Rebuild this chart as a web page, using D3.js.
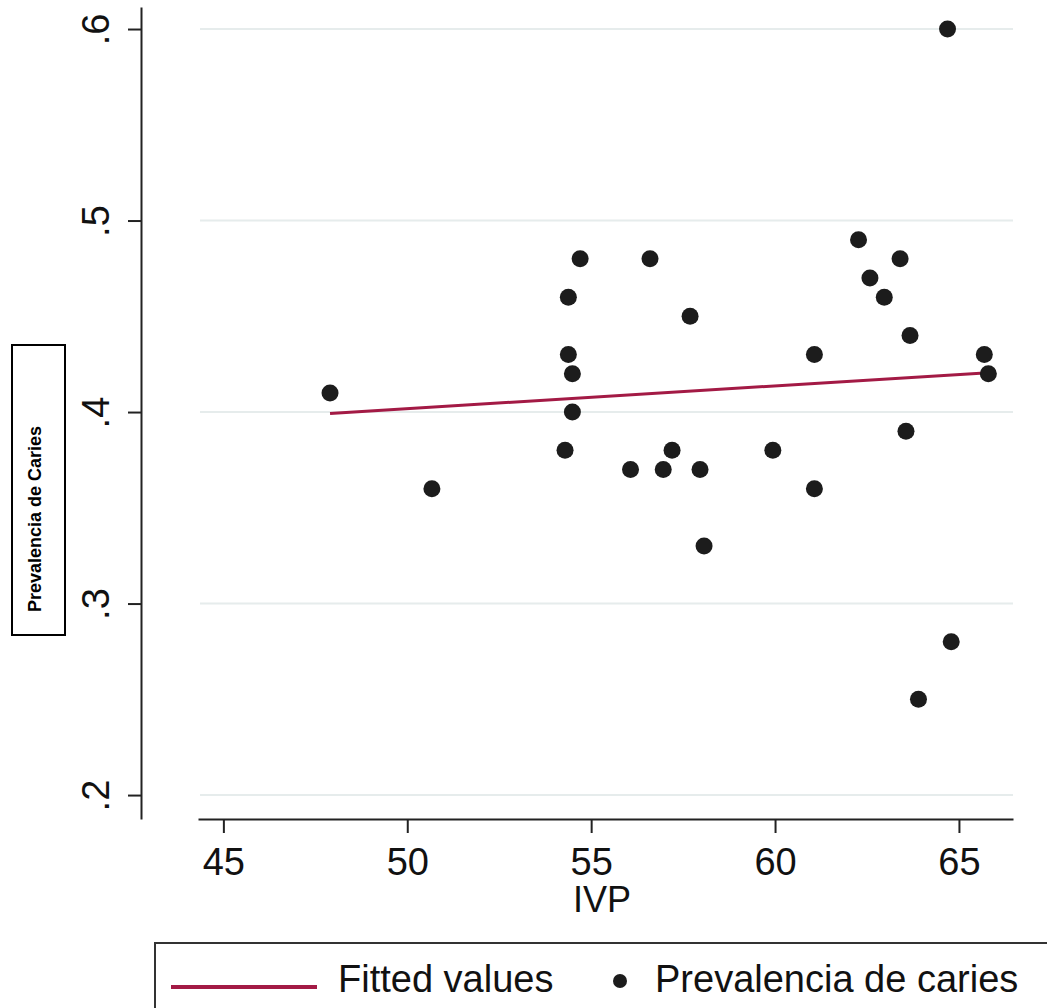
<!DOCTYPE html>
<html>
<head>
<meta charset="utf-8">
<script src="https://cdn.jsdelivr.net/npm/d3@7"></script>
<style>
  body { margin: 0; background: #fff; }
  text { font-family: "Liberation Sans", Arial, sans-serif; }
</style>
</head>
<body>
<div id="chart"></div>
<script>
// data
var ivp  = [47.9, 50.67, 54.70, 56.60, 54.38, 57.69, 54.38, 54.49, 54.49, 54.29,
            57.20, 56.07, 56.96, 57.96, 58.07, 59.94, 62.27, 63.40, 62.58, 62.97,
            63.67, 61.07, 65.69, 65.80, 63.56, 61.07, 64.79, 63.90, 64.69];
var prev = [0.41, 0.36, 0.48, 0.48, 0.46, 0.45, 0.43, 0.42, 0.40, 0.38,
            0.38, 0.37, 0.37, 0.37, 0.33, 0.38, 0.49, 0.48, 0.47, 0.46,
            0.44, 0.43, 0.43, 0.42, 0.39, 0.36, 0.28, 0.25, 0.60];
var fitX = [47.9, 65.8];
var fitY = [0.3993, 0.4205];
var xTicks = [45, 50, 55, 60, 65];
var yTicks = [0.2, 0.3, 0.4, 0.5, 0.6];

var W = 1047, H = 1008;
var lineColor = "#a31a45";

var svg = d3.select("#chart")
  .append("svg")
  .attr("width", W)
  .attr("height", H);

var x = d3.scaleLinear()
  .domain([44.31, 66.47])
  .range([198, 1013]);

var y = d3.scaleLinear()
  .domain([0.1875, 0.6115])
  .range([819, 7]);

// grid lines
svg.append("g")
  .selectAll("line")
  .data(yTicks)
  .enter()
  .append("line")
  .attr("x1", 200)
  .attr("x2", 1013)
  .attr("y1", function(d) { return y(d); })
  .attr("y2", function(d) { return y(d); })
  .attr("stroke", "#e6ecec")
  .attr("stroke-width", 2);

// X axis
var gx = svg.append("g")
  .attr("transform", "translate(0,819)")
  .call(d3.axisBottom(x).tickValues(xTicks).tickSize(14).tickSizeOuter(0).tickFormat(d3.format("d")));
gx.select(".domain").attr("stroke", "#222").attr("stroke-width", 2);
gx.selectAll(".tick line").attr("stroke", "#222").attr("stroke-width", 2);
gx.selectAll(".tick text")
  .attr("y", 56)
  .attr("dy", 0)
  .attr("fill", "#111")
  .style("font-size", "38px");

svg.append("text")
  .attr("x", 602)
  .attr("y", 912)
  .attr("text-anchor", "middle")
  .attr("fill", "#111")
  .style("font-size", "36px")
  .text("IVP");

// Y axis
var yFmt = function(d) { return d3.format(".1f")(d).replace(/^0/, ""); };
var gy = svg.append("g")
  .attr("transform", "translate(141,0)")
  .call(d3.axisLeft(y).tickValues(yTicks).tickSize(13).tickSizeOuter(0).tickFormat(yFmt));
gy.select(".domain").attr("stroke", "#222").attr("stroke-width", 2);
gy.selectAll(".tick line").attr("stroke", "#222").attr("stroke-width", 2);
gy.selectAll(".tick text")
  .attr("x", 0)
  .attr("y", -32)
  .attr("dy", 0)
  .attr("transform", "rotate(-90)")
  .attr("text-anchor", "middle")
  .attr("fill", "#111")
  .style("font-size", "38px");

// y title in a box
svg.append("rect")
  .attr("x", 12)
  .attr("y", 345)
  .attr("width", 53)
  .attr("height", 290)
  .attr("fill", "none")
  .attr("stroke", "#000")
  .attr("stroke-width", 2);
svg.append("text")
  .attr("transform", "translate(41,519) rotate(-90)")
  .attr("text-anchor", "middle")
  .style("font-size", "18px")
  .style("font-weight", "bold")
  .text("Prevalencia de Caries");

// fitted line
var line = d3.line()
  .x(function(d) { return x(d[0]); })
  .y(function(d) { return y(d[1]); });
svg.append("path")
  .datum(d3.zip(fitX, fitY))
  .attr("d", line)
  .attr("fill", "none")
  .attr("stroke", lineColor)
  .attr("stroke-width", 3);

// points
svg.append("g")
  .selectAll("circle")
  .data(d3.zip(ivp, prev))
  .enter()
  .append("circle")
  .attr("cx", function(d) { return x(d[0]); })
  .attr("cy", function(d) { return y(d[1]); })
  .attr("r", 8.5)
  .attr("fill", "#1c1c1c");

// legend
var lg = svg.append("g");
lg.append("rect")
  .attr("x", 155)
  .attr("y", 943)
  .attr("width", 920)
  .attr("height", 100)
  .attr("fill", "none")
  .attr("stroke", "#333")
  .attr("stroke-width", 2);
lg.append("line")
  .attr("x1", 171).attr("x2", 317)
  .attr("y1", 987).attr("y2", 987)
  .attr("stroke", lineColor)
  .attr("stroke-width", 4);
lg.append("text")
  .attr("x", 338).attr("y", 992)
  .attr("fill", "#111")
  .style("font-size", "38px")
  .text("Fitted values");
lg.append("circle")
  .attr("cx", 620).attr("cy", 981)
  .attr("r", 7)
  .attr("fill", "#1c1c1c");
lg.append("text")
  .attr("x", 655).attr("y", 992)
  .attr("fill", "#111")
  .style("font-size", "38px")
  .text("Prevalencia de caries");
</script>
</body>
</html>
